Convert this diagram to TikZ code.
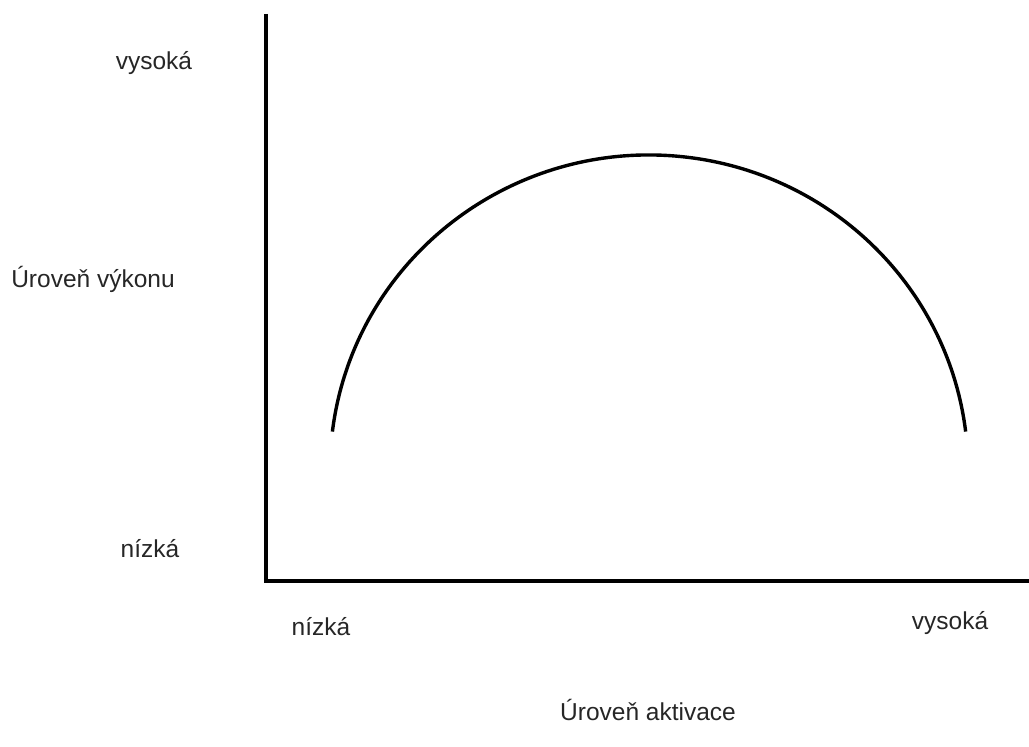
\documentclass[tikz,border=0pt]{standalone}
\usepackage{fontspec}
\setmainfont{Liberation Sans}
\begin{document}
\begin{tikzpicture}[
	x=1pt, y=1pt,
	lbl/.style={ text=black!85, inner sep=0pt, anchor=base, font=\fontsize{24.5}{28}\selectfont },
	axis/.style={ line width=4pt, line join=miter },
	curve/.style={ line width=3.4pt }
]
\useasboundingbox (0,0) rectangle (1029,747);

\coordinate (top) at (265.5,733);
\coordinate (orig) at (265.5,165.5);
\coordinate (right) at (1029,165.5);
\coordinate (start) at (332.4,315.4);

\node at (154,677) (yhigh) [lbl] {vysoká};
\node at (93,459) (ytitle) [lbl] {Úroveň výkonu};
\node at (150,189) (ylow) [lbl] {nízká};
\node at (321,111) (xlow) [lbl] {nízká};
\node at (950,117) (xhigh) [lbl] {vysoká};
\node at (648,26) (xtitle) [lbl] {Úroveň aktivace};

\draw[axis] (top) -- (orig) -- (right);
\draw[curve] (start) arc[start angle=173, end angle=7, x radius=319, y radius=315];

\end{tikzpicture}
\end{document}
